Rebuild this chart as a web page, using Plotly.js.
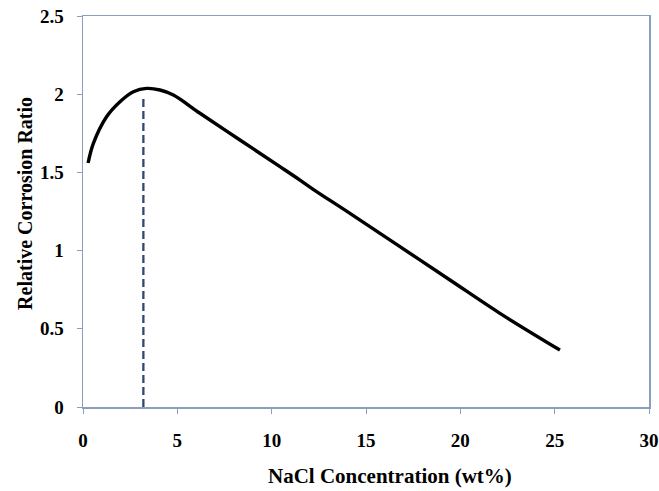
<!DOCTYPE html>
<html>
<head>
<meta charset="utf-8">
<script src="https://cdn.plot.ly/plotly-3.0.1.min.js"></script>
<style>html,body{margin:0;padding:0;background:#fff;}#chart{width:659px;height:491px;}</style>
</head>
<body>
<div id="chart"></div>
<script>
// NaCl concentration (wt%) and relative corrosion ratio
const naclConc = [0.27, 0.55, 1.25, 1.96, 2.67, 3.37, 4.08, 4.79, 6.2, 8.32, 10.44, 11.5, 12.2, 14.15, 16.8, 19.45, 22.1, 25.28];
const corrosionRatio = [1.56, 1.686, 1.856, 1.952, 2.016, 2.037, 2.027, 1.995, 1.878, 1.707, 1.537, 1.451, 1.392, 1.238, 1.025, 0.812, 0.599, 0.364];
// vertical dashed marker at the peak
const peakX = [3.2, 3.2];
const peakY = [0, 1.98];
const xTicks = [0, 5, 10, 15, 20, 25, 30];
const yTicks = [0, 0.5, 1, 1.5, 2, 2.5];
const xTitle = 'NaCl Concentration (wt%)';
const yTitle = 'Relative Corrosion Ratio';

const axisColor = '#8a9fc0';
const fam = '"Liberation Serif", "Times New Roman", serif';

const traces = [
  {x: peakX, y: peakY, mode: 'lines', line: {color: '#2f4870', width: 2.3, dash: '8px,4px'}, hoverinfo: 'skip'},
  {x: naclConc, y: corrosionRatio, mode: 'lines', line: {color: '#000', width: 3.4, shape: 'spline', smoothing: 1}}
];

const tickFont = {family: fam, size: 19, color: '#000', weight: 'bold'};

const layout = {
  width: 659, height: 491,
  margin: {l: 83, r: 10, t: 16, b: 84},
  paper_bgcolor: '#fff', plot_bgcolor: '#fff',
  showlegend: false,
  font: {family: fam, color: '#000'},
  xaxis: {
    range: [0, 30], tickvals: xTicks, ticktext: xTicks.map(String),
    showgrid: false, zeroline: false,
    showline: true, mirror: true, linecolor: axisColor, linewidth: 1.5,
    ticks: 'outside', ticklen: 5, tickcolor: axisColor, tickwidth: 1,
    ticklabelstandoff: 11,
    tickfont: tickFont
  },
  yaxis: {
    range: [0, 2.5], tickvals: yTicks, ticktext: yTicks.map(String),
    showgrid: false, zeroline: false,
    showline: true, mirror: true, linecolor: axisColor, linewidth: 1.5,
    ticks: 'outside', ticklen: 5, tickcolor: axisColor, tickwidth: 1,
    ticklabelstandoff: 9,
    tickfont: tickFont
  },
  annotations: [
    {text: '<b>' + xTitle + '</b>', xref: 'paper', yref: 'paper', x: 0.542, y: -0.1765, xanchor: 'center', yanchor: 'middle',
     showarrow: false, font: {family: fam, size: 21, color: '#000'}},
    {text: '<b>' + yTitle + '</b>', xref: 'paper', yref: 'paper', x: -0.1025, y: 0.522, xanchor: 'center', yanchor: 'middle',
     textangle: -90, showarrow: false, font: {family: fam, size: 20, color: '#000'}}
  ]
};

Plotly.newPlot('chart', traces, layout, {displayModeBar: false, staticPlot: true});
</script>
</body>
</html>
